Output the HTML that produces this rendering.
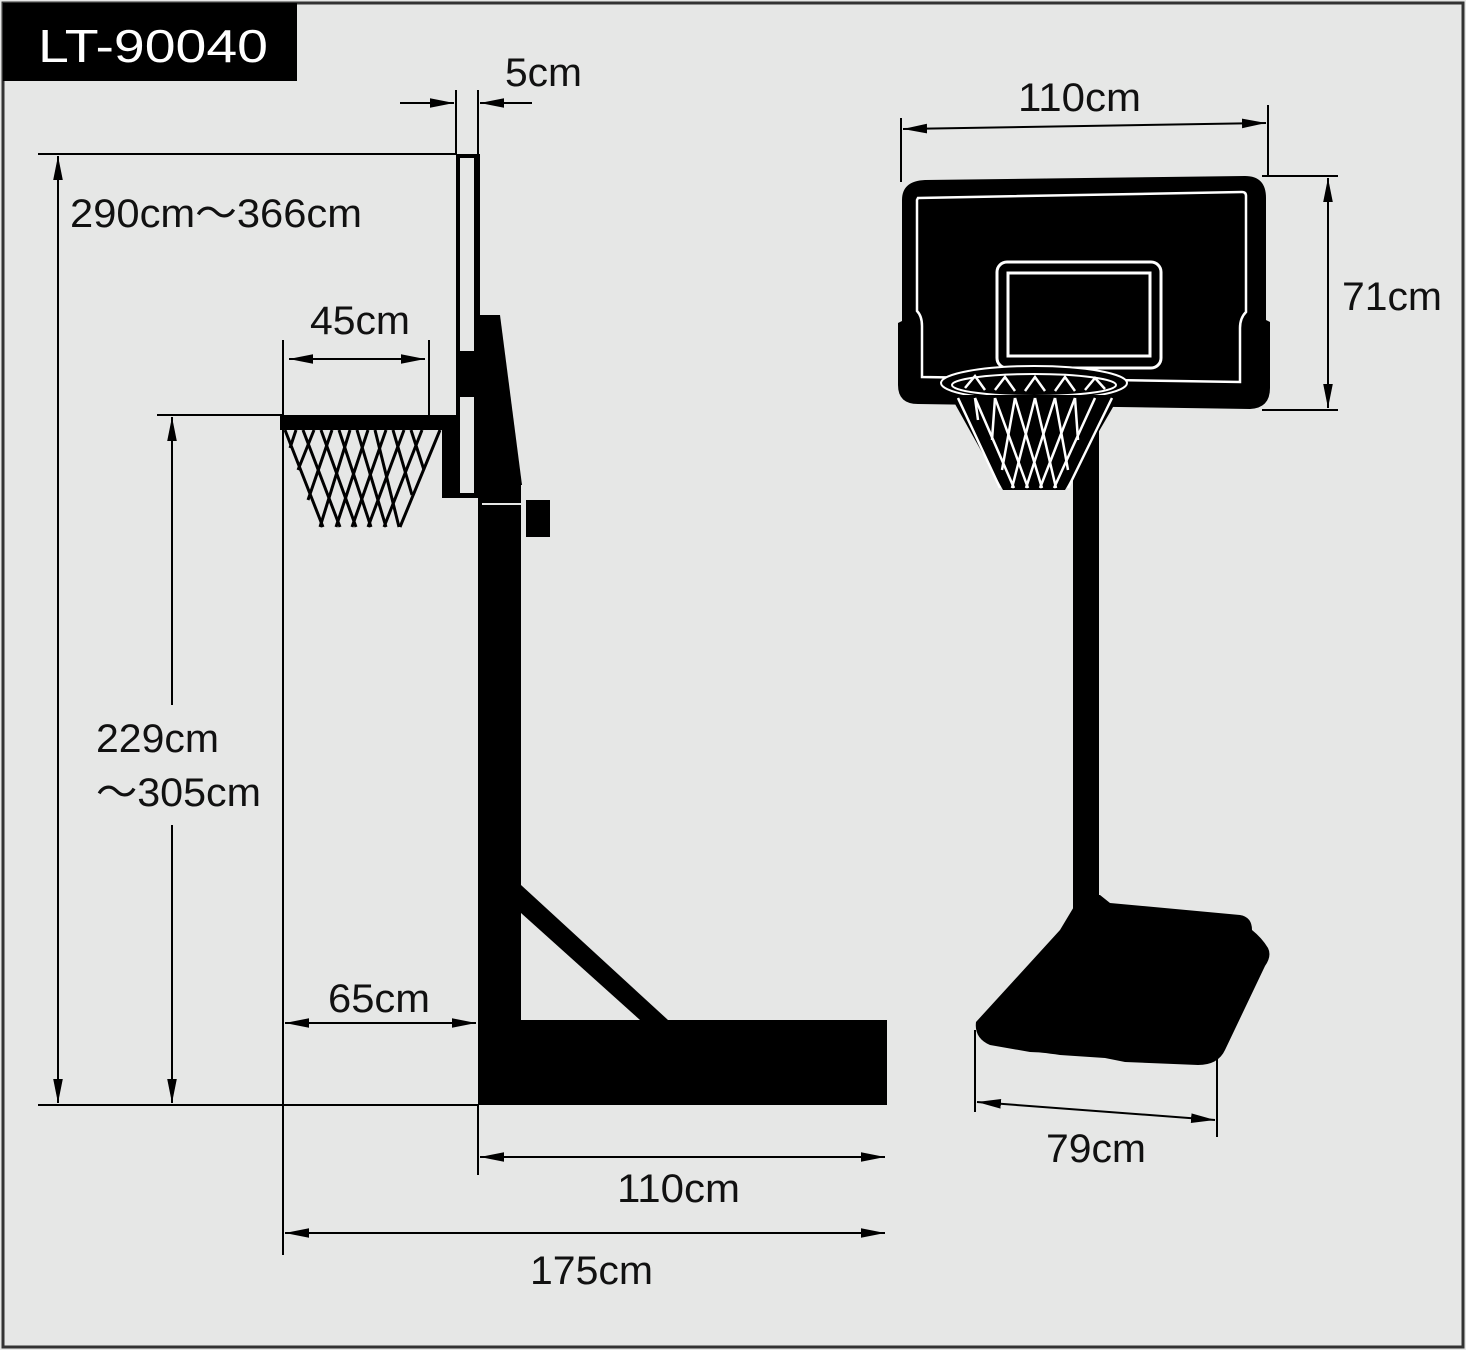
<!DOCTYPE html>
<html><head><meta charset="utf-8"><style>
html,body{margin:0;padding:0;background:#e6e7e6}
svg{display:block}
text{font-family:"Liberation Sans",sans-serif;fill:#111}
</style></head><body>
<svg width="1466" height="1350" viewBox="0 0 1466 1350" xmlns="http://www.w3.org/2000/svg">
<defs>
<marker id="a" viewBox="0 0 10 10" refX="10" refY="5" markerWidth="8" markerHeight="8" markerUnits="userSpaceOnUse" orient="auto-start-reverse"><path d="M0,1.5 L10,5 L0,8.5 z" fill="#000"/></marker>
<marker id="b" viewBox="0 0 20 10" refX="20" refY="5" markerWidth="24" markerHeight="12" markerUnits="userSpaceOnUse" orient="auto-start-reverse"><path d="M0,1 L20,5 L0,9 z" fill="#000"/></marker>
</defs>
<rect x="0" y="0" width="1466" height="1350" fill="#e6e7e6"/>
<rect x="3" y="3" width="1460" height="1344" fill="none" stroke="#333" stroke-width="3"/>
<rect x="3" y="3" width="294" height="78" fill="#000"/>
<text x="38" y="62" font-size="46" style="fill:#fff" textLength="230" lengthAdjust="spacingAndGlyphs">LT-90040</text>

<!-- side view dims -->
<g stroke="#000" stroke-width="2" fill="none">
<line x1="38" y1="154" x2="457" y2="154"/>
<line x1="38" y1="1105" x2="478" y2="1105"/>
<line x1="58" y1="156" x2="58" y2="1103" marker-start="url(#b)" marker-end="url(#b)"/>
<line x1="157" y1="415" x2="282" y2="415"/>
<line x1="172" y1="417" x2="172" y2="705" marker-start="url(#b)"/>
<line x1="172" y1="825" x2="172" y2="1103" marker-end="url(#b)"/>
<line x1="283" y1="340" x2="283" y2="1255"/>
<line x1="429" y1="340" x2="429" y2="415"/>
<line x1="289" y1="359" x2="425" y2="359" marker-start="url(#b)" marker-end="url(#b)"/>
<line x1="456" y1="90" x2="456" y2="154"/>
<line x1="478" y1="90" x2="478" y2="154"/>
<line x1="400" y1="103" x2="454" y2="103" marker-end="url(#b)"/>
<line x1="532" y1="103" x2="480" y2="103" marker-end="url(#b)"/>
<line x1="285" y1="1023" x2="476" y2="1023" marker-start="url(#b)" marker-end="url(#b)"/>
<line x1="478" y1="1105" x2="478" y2="1175"/>
<line x1="480" y1="1157" x2="885" y2="1157" marker-start="url(#b)" marker-end="url(#b)"/>
<line x1="285" y1="1233" x2="885" y2="1233" marker-start="url(#b)" marker-end="url(#b)"/>
</g>
<text x="70" y="227" font-size="40" textLength="292" lengthAdjust="spacingAndGlyphs">290cm～366cm</text>
<text x="505" y="86" font-size="40" textLength="77" lengthAdjust="spacingAndGlyphs">5cm</text>
<text x="310" y="334" font-size="40" textLength="100" lengthAdjust="spacingAndGlyphs">45cm</text>
<text x="96" y="752" font-size="40" textLength="123" lengthAdjust="spacingAndGlyphs">229cm</text>
<text x="96" y="806" font-size="40" textLength="165" lengthAdjust="spacingAndGlyphs">～305cm</text>
<text x="328" y="1012" font-size="40" textLength="102" lengthAdjust="spacingAndGlyphs">65cm</text>
<text x="617" y="1202" font-size="40" textLength="123" lengthAdjust="spacingAndGlyphs">110cm</text>
<text x="530" y="1284" font-size="40" textLength="123" lengthAdjust="spacingAndGlyphs">175cm</text>

<!-- side view structure -->
<g fill="#000">
<rect x="456" y="154" width="24" height="344"/>
<polygon points="478,315 500,315 522,485 478,485"/>
<rect x="478" y="485" width="43" height="620"/>
<rect x="478" y="1020" width="409" height="85"/>
<polygon points="521,885 668,1020 640,1020 521,913"/>
<rect x="526" y="500" width="24" height="37"/>
<rect x="280" y="415" width="178" height="15"/>
<rect x="442" y="415" width="16" height="83"/>
</g>
<rect x="460" y="158" width="14" height="193" fill="#e6e7e6"/>
<rect x="460" y="397" width="14" height="96" fill="#e6e7e6"/>
<line x1="482" y1="504" x2="521" y2="504" stroke="#e6e7e6" stroke-width="2"/>
<!-- side net -->
<g stroke="#000" stroke-width="3" fill="none">
<path d="M285,430 L323,527 M303,430 L340,527 M321,430 L356,527 M339,430 L371,527 M357,430 L386,527 M375,430 L399,527 M393,430 L412,495 M411,430 L424,470"/>
<path d="M440,430 L400,527 M422,430 L384,527 M404,430 L368,527 M386,430 L352,527 M368,430 L336,527 M350,430 L320,527 M332,430 L308,500 M314,430 L298,470 M296,430 L290,448"/>
</g>

<!-- front view -->
<g stroke="#000" stroke-width="2" fill="none">
<line x1="901" y1="118" x2="901" y2="182"/>
<line x1="1268" y1="105" x2="1268" y2="176"/>
<line x1="903" y1="129" x2="1266" y2="123" marker-start="url(#b)" marker-end="url(#b)"/>
<line x1="1262" y1="176" x2="1338" y2="176"/>
<line x1="1262" y1="410" x2="1338" y2="410"/>
<line x1="1328" y1="178" x2="1328" y2="408" marker-start="url(#b)" marker-end="url(#b)"/>
<line x1="975" y1="1030" x2="975" y2="1112"/>
<line x1="1217" y1="1055" x2="1217" y2="1137"/>
<line x1="977" y1="1102" x2="1215" y2="1120" marker-start="url(#b)" marker-end="url(#b)"/>
</g>
<text x="1018" y="111" font-size="40" textLength="123" lengthAdjust="spacingAndGlyphs">110cm</text>
<text x="1342" y="310" font-size="40" textLength="100" lengthAdjust="spacingAndGlyphs">71cm</text>
<text x="1046" y="1162" font-size="40" textLength="100" lengthAdjust="spacingAndGlyphs">79cm</text>

<rect x="1073" y="400" width="26" height="510" fill="#000"/>
<path d="M925,180 L1245,176 Q1266,176 1266,198 L1266,320 L1270,322 L1270,388 Q1270,408 1250,409 L918,404 Q898,404 898,385 L898,323 L902,321 L902,200 Q902,181 925,180 Z" fill="#000"/>
<path d="M918,198 L1242,192 Q1246,192 1246,196 L1246,312 Q1240,318 1240,328 L1240,382 L922,377 L922,326 Q922,316 917,311 L917,200 Z" fill="none" stroke="#fff" stroke-width="2.5"/>
<rect x="997" y="262" width="164" height="106" rx="10" fill="none" stroke="#fff" stroke-width="3"/>
<rect x="1008" y="273" width="142" height="83" fill="none" stroke="#fff" stroke-width="3"/>
<!-- rim and net -->
<ellipse cx="1034" cy="383" rx="93" ry="17" fill="#000" stroke="#fff" stroke-width="2"/>
<ellipse cx="1034" cy="385" rx="82" ry="11" fill="none" stroke="#fff" stroke-width="2"/>
<path d="M950,395 L1003,490 L1065,490 L1120,395 Z" fill="#000"/>
<g stroke="#fff" stroke-width="2.5" fill="none">
<path d="M958,398 L1000,488 M975,398 L1014,488 M995,398 L1028,488 M1015,398 L1042,488 M1035,398 L1056,488 M1055,398 L1068,470 M1075,398 L1078,440"/>
<path d="M1112,398 L1068,488 M1095,398 L1054,488 M1075,398 L1040,488 M1055,398 L1026,488 M1035,398 L1012,488 M1015,398 L1002,470 M995,398 L992,440 M975,398 L978,420"/>
<path d="M965,388 L975,376 L985,390 M995,390 L1005,377 L1015,391 M1025,391 L1035,377 L1045,391 M1055,391 L1065,377 L1075,391 M1085,390 L1095,378 L1105,389"/>
</g>
<!-- base -->
<path d="M1080,895 L1100,895 L1110,903 L1240,915 Q1252,917 1252,930 Q1262,938 1268,948 Q1272,956 1265,966 L1225,1050 Q1218,1065 1198,1065 L1125,1062 L1105,1058 L1060,1055 Q1040,1052 1030,1052 L990,1045 Q974,1038 976,1022 L1060,930 L1075,905 Z" fill="#000"/>
</svg>
</body></html>
